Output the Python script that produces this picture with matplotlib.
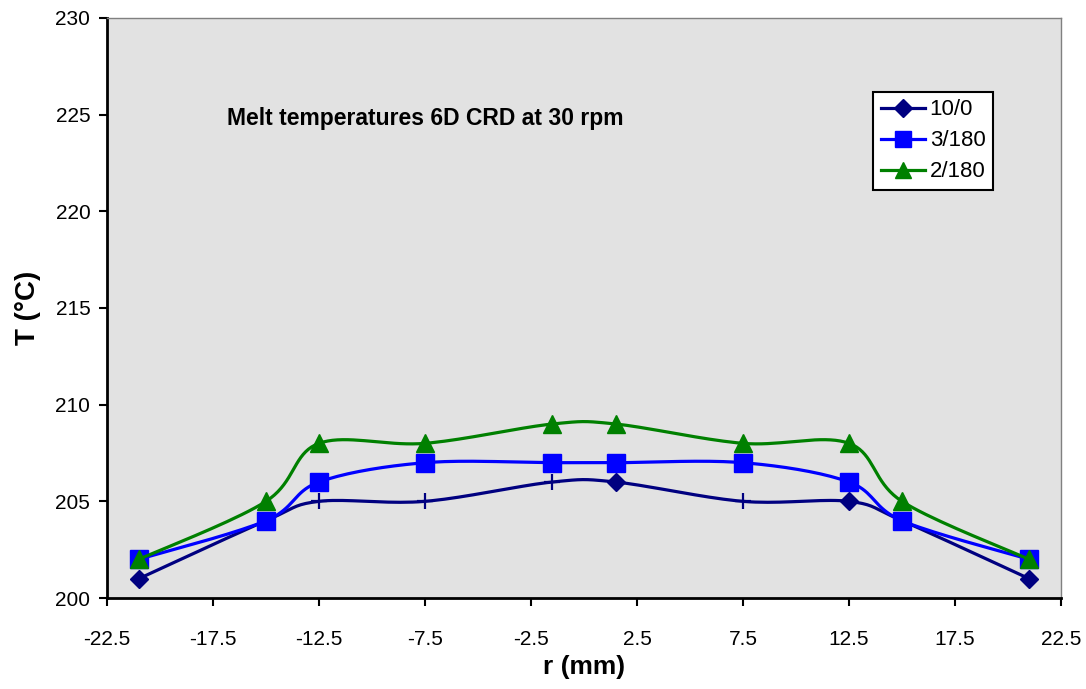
import numpy as np
import matplotlib.pyplot as plt
from matplotlib.lines import Line2D

plt.rcParams['font.family'] = ['Liberation Sans', 'DejaVu Sans']

# data
r_mm = [-21, -15, -12.5, -7.5, -1.5, 1.5, 7.5, 12.5, 15, 21]
t_10_0 = [201, 204, 205, 205, 206, 206, 205, 205, 204, 201]
t_3_180 = [202, 204, 206, 207, 207, 207, 207, 206, 204, 202]
t_2_180 = [202, 205, 208, 208, 209, 209, 208, 208, 205, 202]
marks_10_0 = ['D', 'D', '+', '+', '+', 'D', '+', 'D', 'D', 'D']


def smooth(x, y, n=20):
    # excel-style smoothed line (catmull-rom bezier between the points)
    x = np.asarray(x, float)
    y = np.asarray(y, float)
    P = np.column_stack([x, y])
    P = np.vstack([P[0], P, P[-1]])
    out = []
    t = np.linspace(0, 1, n)[:, None]
    for i in range(1, len(P) - 2):
        p0, p1, p2, p3 = P[i - 1], P[i], P[i + 1], P[i + 2]
        c1 = p1 + (p2 - p0) / 6
        c2 = p2 - (p3 - p1) / 6
        seg = ((1 - t) ** 3) * p1 + 3 * ((1 - t) ** 2) * t * c1 + 3 * (1 - t) * t ** 2 * c2 + t ** 3 * p2
        out.append(seg if i == 1 else seg[1:])
    out = np.vstack(out)
    return out[:, 0], out[:, 1]


fig = plt.figure(figsize=(10.86, 6.89), dpi=100)
ax = fig.add_axes([0.0985, 0.132, 0.8785, 0.842])
ax.set_facecolor('#E2E2E2')

navy = '#000080'
blue = '#0000FF'
green = '#008000'

xs, ys = smooth(r_mm, t_10_0)
ax.plot(xs, ys, color=navy, lw=2.3, zorder=3)
for xi, yi, m in zip(r_mm, t_10_0, marks_10_0):
    if m == '+':
        ax.plot(xi, yi, marker='+', ms=12, mew=1.6, color=navy, zorder=4)
    else:
        ax.plot(xi, yi, marker='D', ms=9, color=navy, zorder=4)

xs, ys = smooth(r_mm, t_3_180)
ax.plot(xs, ys, color=blue, lw=2.3, zorder=5)
ax.plot(r_mm, t_3_180, ls='none', marker='s', ms=13, color=blue, zorder=6)

xs, ys = smooth(r_mm, t_2_180)
ax.plot(xs, ys, color=green, lw=2.3, zorder=7)
ax.plot(r_mm, t_2_180, ls='none', marker='^', ms=13.5, color=green, zorder=8)

ax.set_xlim(-22.5, 22.5)
ax.set_ylim(200, 230)
ax.set_xticks(np.arange(-22.5, 22.6, 5))
ax.set_xticklabels(['-22.5', '-17.5', '-12.5', '-7.5', '-2.5', '2.5', '7.5', '12.5', '17.5', '22.5'])
ax.set_yticks(np.arange(200, 231, 5))
ax.tick_params(direction='out', length=6, width=1.5, labelsize=15, pad=6)
ax.tick_params(axis='x', pad=17)

for s in ['left', 'bottom']:
    ax.spines[s].set_linewidth(2)
    ax.spines[s].set_color('black')
for s in ['top', 'right']:
    ax.spines[s].set_linewidth(1)
    ax.spines[s].set_color('#808080')

ax.set_xlabel('r (mm)', fontsize=19, fontweight='bold', labelpad=4)
ax.set_ylabel('T (°C)', fontsize=20, fontweight='bold', labelpad=10)

ax.text(-16.85, 224.8, 'Melt temperatures 6D CRD at 30 rpm', fontsize=16.5,
        fontweight='bold', ha='left', va='center')

handles = [
    Line2D([], [], color=navy, lw=2.3, marker='D', ms=9),
    Line2D([], [], color=blue, lw=2.3, marker='s', ms=11),
    Line2D([], [], color=green, lw=2.3, marker='^', ms=12),
]
leg = ax.legend(handles, ['10/0', '3/180', '2/180'], loc='upper left',
                bbox_to_anchor=(0.803, 0.873), fontsize=16, frameon=True,
                fancybox=False, edgecolor='black', facecolor='white',
                framealpha=1, borderpad=0.35, labelspacing=0.45,
                handlelength=2.0, handletextpad=0.2, borderaxespad=0)
leg.get_frame().set_linewidth(1.5)

fig.savefig('out.png', dpi=100)
